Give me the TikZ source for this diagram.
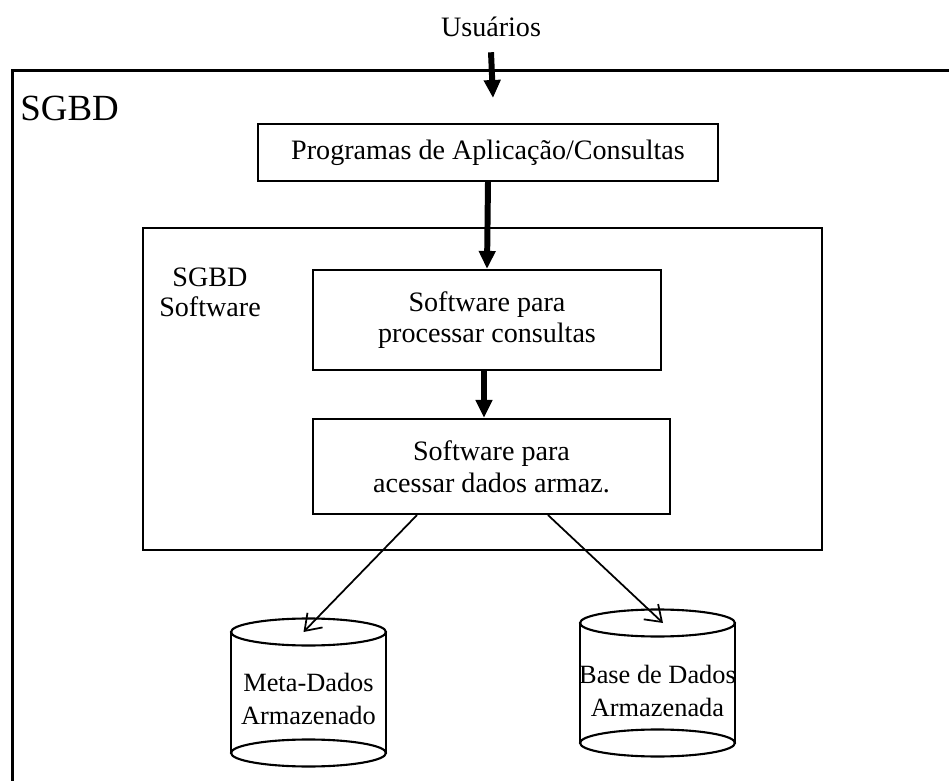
\documentclass[tikz,border=0pt]{standalone}
\usepackage{fontspec}
\setmainfont{Liberation Serif}
\usetikzlibrary{arrows.meta,positioning}

\begin{document}
\begin{tikzpicture}[
          frame/.style={draw, line width=1.2pt},
          stage/.style={frame, align=center, font=\fontsize{16}{18}\selectfont},
          tag/.style={align=center, inner sep=0pt, font=\fontsize{16}{17}\selectfont},
          disk/.style={minimum width=3.1cm, inner sep=0pt, outer sep=0pt},
          disktext/.style={align=center, yshift=-0.13cm, font=\fontsize{15}{19}\selectfont},
          flow/.style={-{Triangle[length=0.36cm, width=0.32cm]}, line width=3.4pt},
          link/.style={-{Straight Barb[length=0.3cm, width=0.42cm]}, line width=1pt}
      ]
        \useasboundingbox (0,0) rectangle (18.98,-15.62);
        % outer frame, open to the right and below
        \draw[line width=1.2pt] (0.25,-16) |- (19.5,-1.41);
        \node[anchor=west, inner sep=0pt, font=\fontsize{21}{21}\selectfont] (sgbd) at (0.4,-2.16) {SGBD};

        \node[tag] (usr) at (9.82,-0.54) {Usuários};
        \coordinate (usrtip) at (9.86,-1.96);

        \node[stage, minimum width=9.2cm, minimum height=1.14cm] (prog) at (9.76,-3.05) {Programas de Aplicação/Consultas};

        % software block
        \node[frame, minimum width=13.58cm, minimum height=6.44cm] (soft) at (9.65,-7.78) {};
        \node[tag] (softlbl) at (4.2,-5.84) {SGBD\\Software};
        \node[stage, minimum width=6.96cm, minimum height=2.0cm] (proc) at (9.74,-6.4) {Software para\\processar consultas};
        \node[stage, minimum width=7.14cm, minimum height=1.9cm] (acc) at (9.83,-9.33) {Software para\\acessar dados armaz.};

        % stored data
        \node[disk, minimum height=2.42cm,
              label={[disktext]center:Meta-Dados\\Armazenado}] (meta) at (6.17,-13.85) {};
        \node[disk, minimum height=2.4cm,
              label={[disktext, yshift=-0.03cm]center:Base de Dados\\Armazenada}] (base) at (13.15,-13.66) {};
        \foreach \d in {meta,base} {
          \draw[line width=1.2pt] (\d.north) ellipse [x radius=1.55cm, y radius=0.27cm];
          \draw[line width=1.2pt] (\d.south) ellipse [x radius=1.55cm, y radius=0.27cm];
          \draw[line width=1.2pt] (\d.north west) -- (\d.south west) (\d.north east) -- (\d.south east);
        }

        \draw[flow] ([yshift=-0.3cm]usr.south) -- (usrtip);
        \draw[flow] (prog.south) -- (proc.north);
        \draw[flow] ([xshift=-0.06cm]proc.south) -- ([xshift=-0.06cm]proc.south |- acc.north);
        \draw[link] ([xshift=-1.49cm]acc.south) -- ([xshift=-0.1cm]meta.north);
        \draw[link] ([xshift=1.13cm]acc.south) -- ([xshift=0.11cm]base.north);
      \end{tikzpicture}
\end{document}
